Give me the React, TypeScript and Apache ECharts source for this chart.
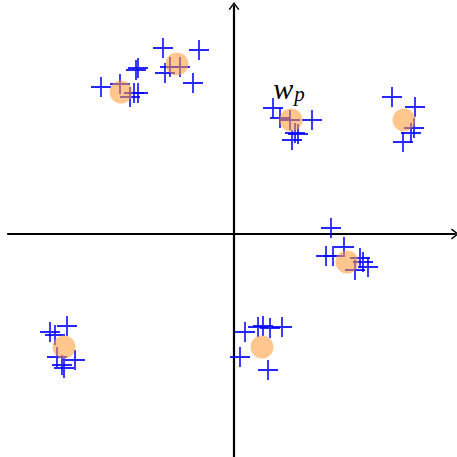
import React, { useEffect, useRef } from "react";
import * as echarts from "echarts";

// Cluster centres (prototypes)
const centersX = [-2.26, -1.14, 1.14, 3.4, 2.26, -3.4, 0.56];
const centersY = [2.84, 3.4, 2.28, 2.28, -0.56, -2.26, -2.26];

// Samples scattered around the centres
const samplesX = [
  -1.42, -0.7, -1.28, -1.08, -1.38, -0.82, -2.66, -2.28, -1.96, -1.92, -2.0, -2.08, -1.92,
  0.78, 0.92, 1.12, 1.56, 1.22, 1.16, 1.28,
  3.16, 3.62, 3.6, 3.54, 3.38,
  1.94, 1.84, 1.98, 2.2, 2.52, 2.68, 2.42, 2.58,
  -3.68, -3.58, -3.34, -3.54, -3.44, -3.18, -3.4,
  0.22, 0.48, 0.58, 0.72, 0.96, 0.12, 0.68,
];
const samplesY = [
  3.72, 3.68, 3.34, 3.34, 3.22, 3.02, 2.94, 3.0, 3.28, 3.32, 2.82, 2.74, 2.82,
  2.52, 2.32, 2.28, 2.28, 2.02, 1.88, 2.0,
  2.74, 2.54, 2.12, 2.02, 1.84,
  0.12, -0.44, -0.44, -0.26, -0.48, -0.66, -0.72, -0.56,
  -1.96, -2.02, -1.84, -2.46, -2.62, -2.52, -2.68,
  -1.96, -1.86, -1.84, -1.88, -1.86, -2.46, -2.72,
];

const LABEL_INDEX = 2;

const PLUS = "path://M0,-10 L0,10 M-10,0 L10,0";
// open arrow head drawn as a thin filled chevron
const CHEVRON = "path://M0,8 L6,0 L12,8 L10.6,8.9 L6,2.6 L1.4,8.9 Z";

export default function App() {
  const ref = useRef<HTMLDivElement>(null);
  useEffect(() => {
    if (!ref.current) return;
    const chart = echarts.init(ref.current, null, { renderer: "svg" });
    const axisLine = {
      show: true,
      onZero: true,
      symbol: ["none", CHEVRON],
      symbolSize: [12, 8],
      lineStyle: { color: "#000", width: 2.2 },
    };
    chart.setOption({
      animation: false,
      backgroundColor: "#fff",
      grid: { left: 8, right: 2, top: 6, bottom: 0 },
      xAxis: {
        type: "value",
        min: -4.52,
        max: 4.42,
        axisLine,
        axisTick: { show: false },
        axisLabel: { show: false },
        splitLine: { show: false },
      },
      yAxis: {
        type: "value",
        min: -4.46,
        max: 4.56,
        axisLine,
        axisTick: { show: false },
        axisLabel: { show: false },
        splitLine: { show: false },
      },
      series: [
        {
          type: "scatter",
          symbol: PLUS,
          symbolSize: 20,
          itemStyle: { color: "transparent", borderColor: "#0000ff", borderWidth: 1.8, opacity: 0.85 },
          data: samplesX.map((x, i) => [x, samplesY[i]]),
          z: 2,
        },
        {
          type: "scatter",
          symbol: "circle",
          symbolSize: 23,
          itemStyle: { color: "rgba(255,153,51,0.7)" },
          data: centersX.map((x, i) => {
            const item: any = { value: [x, centersY[i]] };
            if (i === LABEL_INDEX) {
              item.label = {
                show: true,
                opacity: 1,
                position: "top",
                distance: 4,
                offset: [-2, 0],
                formatter: "{w|w}{p|p}",
                rich: {
                  w: { fontFamily: "Liberation Serif", fontStyle: "italic", fontSize: 30, color: "#000" },
                  p: {
                    fontFamily: "Liberation Serif",
                    fontStyle: "italic",
                    fontSize: 21,
                    color: "#000",
                    verticalAlign: "bottom",
                    padding: [12, 0, 0, 1],
                  },
                },
              };
            }
            return item;
          }),
          z: 3,
        },
      ],
    });
    return () => chart.dispose();
  }, []);
  return (
    <div
      ref={ref}
      style={{ position: "absolute", left: 0, top: 0, width: 457, height: 457 }}
    />
  );
}
